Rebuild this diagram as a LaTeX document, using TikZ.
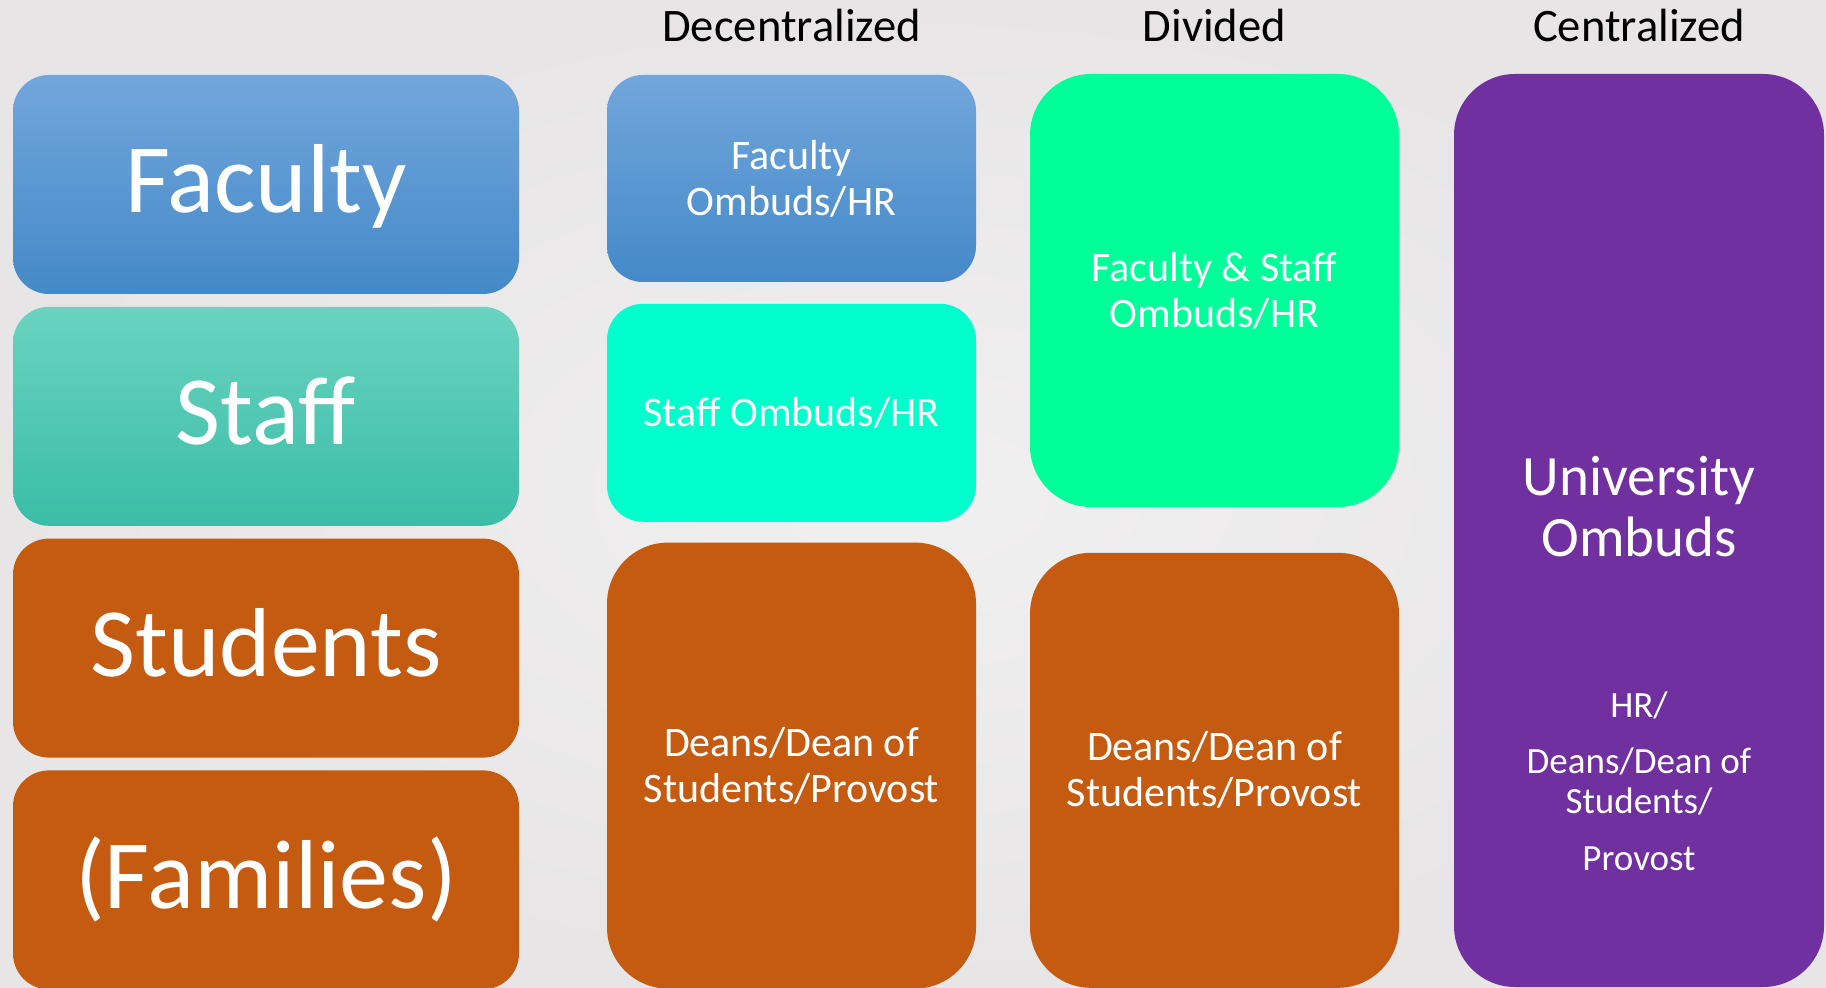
\documentclass[tikz,border=0pt]{standalone}
\usepackage{fontspec}
\setmainfont{Carlito}
\usepackage{xcolor}
\usetikzlibrary{positioning}

\definecolor{facblueA}{RGB}{114,166,220}
\definecolor{facblueB}{RGB}{68,137,200}
\definecolor{staftealA}{RGB}{106,211,193}
\definecolor{staftealB}{RGB}{58,189,166}
\definecolor{studorange}{RGB}{197,90,17}
\definecolor{ombcyan}{RGB}{0,255,204}
\definecolor{ombgreen}{RGB}{0,255,153}
\definecolor{unipurple}{RGB}{112,48,160}
\definecolor{bgouter}{RGB}{231,229,229}
\definecolor{bginner}{RGB}{241,240,240}

\tikzset{
  groupbox/.style={rounded corners=18pt, inner sep=0pt, minimum width=253pt, minimum height=109.5pt, text=white, align=center, text height=39.2pt, text depth=10.8pt, font=\fontsize{49}{52}\selectfont},
  unitbox/.style={rounded corners=18pt, inner sep=0pt, minimum width=184.5pt, text=white, align=center, font=\fontsize{21}{23}\selectfont},
  tallbox/.style={unitbox, rounded corners=30.5pt},
  colhead/.style={anchor=base, inner sep=0pt, font=\fontsize{23.3}{26}\selectfont},
}

\begin{document}
\begin{tikzpicture}[x=0.5pt,y=-0.5pt]
%Shape: Background
\shade [inner color=bginner, outer color=bgouter] (0,0) rectangle (1826,988);
\useasboundingbox (0,0) rectangle (1826,988);

% Text Node: column heads
\node [colhead] (hdec) at (791.5,42) {Decentralized};
\node [colhead] (hdiv) at (1214.5,42) {Divided};
\node [colhead] (hcen) at (1639,42) {Centralized};

%Shape: left column
\node [groupbox, top color=facblueA, bottom color=facblueB] (fac) at (266,184.5) {Faculty};
\node [groupbox, top color=staftealA, bottom color=staftealB, below=6pt of fac] (staff) {Staff};
\node [groupbox, fill=studorange, below=6pt of staff] (stud) {Students};
\node [groupbox, fill=studorange, below=6pt of stud] (fam) {(Families)};

%Shape: decentralized
\node [unitbox, top color=facblueA, bottom color=facblueB, minimum height=103.5pt] (facomb) at (791.5,178.5) {Faculty\\Ombuds/HR};
\node [unitbox, fill=ombcyan, minimum height=109pt, below=10.5pt of facomb] (staffomb) {Staff Ombuds/HR};
\node [tallbox, fill=studorange, minimum height=223pt, below=10pt of staffomb] (deansdec) {Deans/Dean of\\Students/Provost};

%Shape: divided
\node [tallbox, fill=ombgreen, minimum height=216.5pt] (facstaffomb) at (1214.5,290.5) {Faculty \& Staff\\Ombuds/HR};
\node [tallbox, fill=studorange, minimum height=217.5pt, below=22.5pt of facstaffomb] (deansdiv) {Deans/Dean of\\Students/Provost};

%Shape: centralized
\node [tallbox, fill=unipurple, minimum width=185pt, minimum height=456.5pt] (uniomb) at (1639,530.5) {};
% Text Node
\node [anchor=base, inner sep=0pt, text=white, align=center, font=\fontsize{28.5}{30.5}\selectfont] (unitext) at (1639,557) {University\\Ombuds};
% Text Node
\node [anchor=base, inner sep=0pt, text=white, align=center, font=\fontsize{18.5}{20}\selectfont] (hrtext) at (1639,870) {HR/\\[8pt]Deans/Dean of\\Students/\\[8.5pt]Provost};

\end{tikzpicture}
\end{document}
